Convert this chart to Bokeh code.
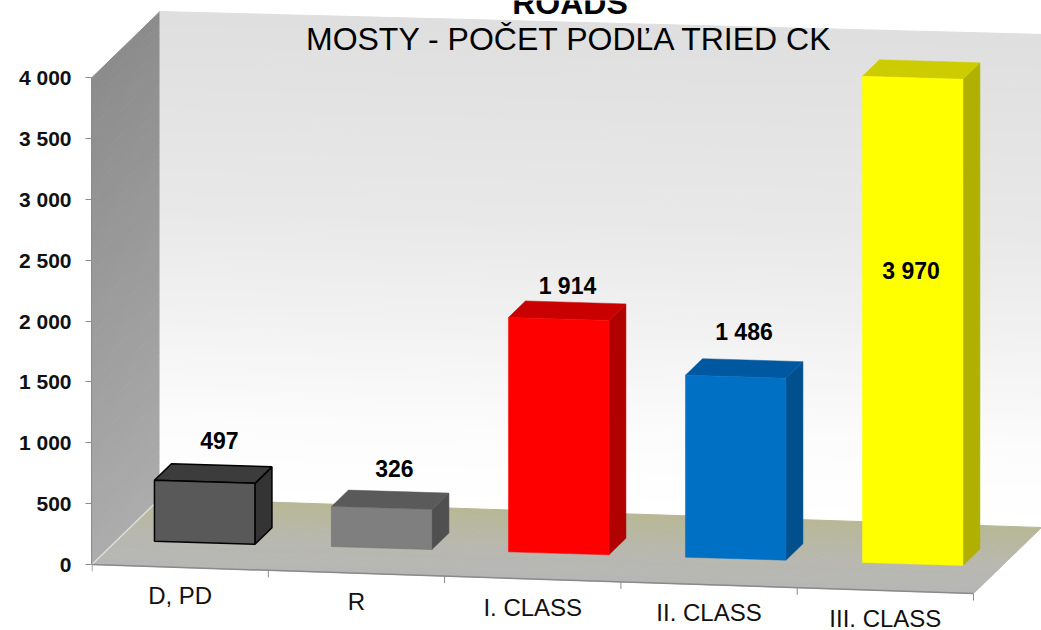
from bokeh.plotting import figure
from bokeh.models import FixedTicker, Range1d
from bokeh.core.properties import value
from bokeh.embed import file_html
from bokeh.resources import INLINE
import numpy as np

# ---- data ----
categories = ["D, PD", "R", "I. CLASS", "II. CLASS", "III. CLASS"]
values = [497, 326, 1914, 1486, 3970]
value_labels = ["497", "326", "1 914", "1 486", "3 970"]
y_ticks = [0, 500, 1000, 1500, 2000, 2500, 3000, 3500, 4000]
y_tick_labels = ["0", "500", "1 000", "1 500", "2 000", "2 500", "3 000", "3 500", "4 000"]
title_top = "ROADS"
title_main = "MOSTY - POČET PODĽA TRIED CK"

# ---- style ----
front_cols = ["#595959", "#7f7f7f", "#ff0000", "#0070c4", "#ffff00"]
top_cols = ["#3c3c3c", "#5a5a5a", "#c80000", "#0058a0", "#cccc00"]
side_cols = ["#343434", "#505050", "#b00000", "#00508e", "#b0b000"]
edge_cols = ["#000000", "#6a6a6a", "#ff0000", "#0070c4", "#ffff00"]
label_dx = [5.5, 3.5, -0.5, -1.0, -11.0]
label_dy = [-34, -32, -27, -39, 196]

# projection: pixels per category / per value unit, oblique depth
PX_U, PX_V = 176.3, 0.12175
SK_U, DX_W, DY_W = 5.8, 68.0, 66.0
BAR_U0, BAR_W, BAR_PITCH = 0.2115, 0.57, 1.004
BAR_V_SCALE, BAR_SKEW_FIX = 1.006, 0.5
W0, W1 = 0.37, 0.62
WALL_TOP_RIGHT = 4050


def proj(u, w, v):
    return (u + w * DX_W / PX_U, v - u * SK_U / PX_V + w * DY_W / PX_V)


def bar_proj(u, w, v):
    return proj(u, w, v * BAR_V_SCALE + u * BAR_SKEW_FIX / PX_V)


def quad(*corners, f=proj):
    pts = [f(*c) for c in corners]
    return [a for a, _ in pts], [b for _, b in pts]


def mix(c1, c2, t):
    return "#%02x%02x%02x" % tuple(int(round(a + (b - a) * t)) for a, b in zip(c1, c2))


def ramp(stops, t):
    ts = [s[0] for s in stops]
    return "#%02x%02x%02x" % tuple(int(round(np.interp(t, ts, [s[1][i] for s in stops]))) for i in range(3))


W, H, LEFT = 1041, 630, 91
x_range = Range1d(-0.5 / PX_U, (W - LEFT - 0.5) / PX_U)
y_range = Range1d((564 - H) / PX_V, 564 / PX_V)

p = figure(width=W, height=H, x_range=x_range, y_range=y_range, output_backend="svg",
           toolbar_location=None, x_axis_location=None, min_border_left=LEFT, min_border_right=0,
           min_border_top=0, min_border_bottom=0, outline_line_color=None,
           background_fill_color="white", border_fill_color="white")
p.grid.visible = False

ax = p.yaxis[0]
ax.ticker = FixedTicker(ticks=y_ticks)
ax.major_label_overrides = dict(zip(y_ticks, y_tick_labels))
ax.bounds = (0, 4000)
ax.axis_line_color = "#8a8a8a"
ax.major_tick_line_color = "#8a8a8a"
ax.axis_line_width = 1
ax.major_tick_out = 6
ax.major_tick_in = 0
ax.minor_tick_line_color = None
ax.major_label_standoff = 14
ax.major_label_text_font = "Liberation Sans"
ax.major_label_text_font_style = "bold"
ax.major_label_text_font_size = "21px"
ax.major_label_text_color = "#111111"

# left wall gradient
N = 40
xs, ys, cols = [], [], []
for i in range(N):
    a, b = 4000 * i / N, 4000 * (i + 1) / N
    x, y = quad((0, 0, a), (0, 1, a), (0, 1, b), (0, 0, b))
    xs.append(x); ys.append(y)
    cols.append(mix((0xac, 0xac, 0xac), (0x8c, 0x8c, 0x8c), (i + .5) / N))
p.patches(xs, ys, fill_color=cols, line_color=cols, line_width=1)

# back wall gradient
stops = [(0, (255, 255, 255)), (0.16, (252, 252, 252)), (0.35, (243, 243, 243)),
         (0.6, (232, 232, 232)), (1, (223, 223, 223))]
N = 70
xs, ys, cols = [], [], []
for i in range(N):
    t0, t1 = i / N, (i + 1) / N
    x, y = quad((0, 1, 4000 * t0), (5, 1, WALL_TOP_RIGHT * t0),
                (5, 1, WALL_TOP_RIGHT * t1), (0, 1, 4000 * t1))
    xs.append(x); ys.append(y)
    cols.append(ramp(stops, (t0 + t1) / 2))
p.patches(xs, ys, fill_color=cols, line_color=cols, line_width=1)

# floor gradient
fstops = [(0, (0xb6, 0xb6, 0xb6)), (0.45, (0xb8, 0xb8, 0xb0)), (1, (0xb8, 0xb8, 0x96))]
N = 30
xs, ys, cols = [], [], []
for i in range(N):
    t0, t1 = i / N, (i + 1) / N
    x, y = quad((0, t0, 0), (5, t0, 0), (5, t1, 0), (0, t1, 0))
    xs.append(x); ys.append(y)
    cols.append(ramp(fstops, (t0 + t1) / 2))
p.patches(xs, ys, fill_color=cols, line_color=cols, line_width=1)

# floor edges and category ticks
x, y = quad((0, 0, 0), (0, 1, 0))
p.line(x, y, line_color="#dddddd", line_width=1.5)
x, y = quad((0, 0, 0), (5, 0, 0))
p.line(x, y, line_color="#8a8a8a", line_width=1.5)
tu = list(range(len(categories) + 1))
tx = [proj(u, 0, 0)[0] for u in tu]
ty = [proj(u, 0, 0)[1] for u in tu]
p.segment(tx, ty, tx, [v - 7 / PX_V for v in ty], line_color="#8a8a8a", line_width=1)

# bars
for i, v in enumerate(values):
    u0 = i * BAR_PITCH + BAR_U0
    u1 = u0 + BAR_W
    lc = edge_cols[i]
    lw = 1.5 if i == 0 else 0.5
    x, y = quad((u1, W0, 0), (u1, W1, 0), (u1, W1, v), (u1, W0, v), f=bar_proj)
    p.patch(x, y, fill_color=side_cols[i], line_color=lc if i == 0 else side_cols[i], line_width=lw)
    x, y = quad((u0, W0, v), (u1, W0, v), (u1, W1, v), (u0, W1, v), f=bar_proj)
    p.patch(x, y, fill_color=top_cols[i], line_color=lc if i == 0 else top_cols[i], line_width=lw)
    x, y = quad((u0, W0, 0), (u1, W0, 0), (u1, W0, v), (u0, W0, v), f=bar_proj)
    p.patch(x, y, fill_color=front_cols[i], line_color=lc, line_width=lw)

# value labels
centres = [proj(i * BAR_PITCH + BAR_U0 + 0.5786 / 2, (W0 + W1) / 2, v) for i, v in enumerate(values)]
p.text([c[0] for c in centres], [c[1] for c in centres], text=value_labels,
       x_offset=label_dx, y_offset=label_dy,
       text_font=value("Liberation Sans"), text_font_style="bold",
       text_font_size=value("23px"), text_align="center", text_baseline="middle", text_color="#000000")

# category labels
cp = [proj(i + 0.5, 0, 0) for i in range(len(categories))]
p.text([c[0] for c in cp], [c[1] for c in cp], text=categories, y_offset=28,
       text_font=value("Liberation Sans"), text_font_size=value("24px"),
       text_align="center", text_baseline="middle", text_color="#111111")

# titles
tcx = (569 - LEFT) / PX_U
p.text([tcx], [(564 - 2) / PX_V], text=[title_top], text_font=value("Liberation Sans"),
       text_font_style="bold", text_font_size=value("32px"), text_align="center",
       text_baseline="middle", text_color="#000000")
p.text([tcx], [(564 - 38.5) / PX_V], text=[title_main], text_font=value("Liberation Sans"),
       text_font_size=value("32px"), text_align="center", text_baseline="middle", text_color="#000000")

open("out.html", "w").write(file_html(p, INLINE))
